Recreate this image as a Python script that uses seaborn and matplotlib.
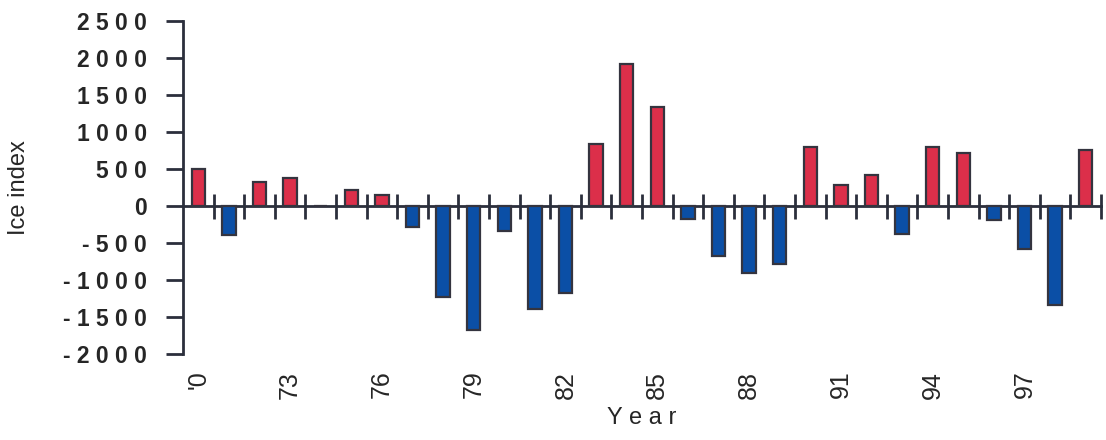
import matplotlib
matplotlib.use("Agg")
import matplotlib.pyplot as plt
import seaborn as sns
import pandas as pd
import numpy as np

# ice index per year, 1970-1999
years = list(range(1970, 2000))
ice_index = [500, -400, 320, 380, 0, 220, 140, -280, -1230, -1670,
             -340, -1390, -1180, 840, 1920, 1330, -180, -680, -910, -780,
             790, 280, 410, -380, 790, 710, -190, -580, -1340, 760]
label_years = ["'0", "73", "76", "79", "82", "85", "88", "91", "94", "97"]
yticks = [2500, 2000, 1500, 1000, 500, 0, -500, -1000, -1500, -2000]

RED = "#dc2f4a"
BLUE = "#0b4fa6"
EDGE = "#34343f"
AXC = "#2b2f3c"

df = pd.DataFrame({"year": [str(y) for y in years], "value": ice_index})
df["sign"] = np.where(df["value"] >= 0, "pos", "neg")

sns.set_style("white")
plt.rcParams["font.family"] = ["Liberation Sans", "DejaVu Sans"]

fig = plt.figure(figsize=(11.06, 4.4), dpi=100)
ax = fig.add_axes([183 / 1106, 1 - 354 / 440, (1101 - 183) / 1106, (354 - 20.7) / 440])

sns.barplot(data=df, x="year", y="value", hue="sign", palette={"pos": RED, "neg": BLUE},
            width=0.44, edgecolor=EDGE, linewidth=1.6, dodge=False, legend=False,
            saturation=1, ax=ax)

ax.set_xlim(-0.5, len(years) - 0.5)
ax.set_ylim(-2000, 2500)

# y axis: spaced-out bold digits
ax.set_yticks(yticks)
ax.set_yticklabels([" ".join(str(v)) for v in yticks], fontsize=16.5, fontweight="bold")
ax.tick_params(axis="y", left=True, direction="out", length=12, width=2, color=AXC, pad=14)
for s in ["top", "right", "bottom"]:
    ax.spines[s].set_visible(False)
ax.spines["left"].set_color(AXC)
ax.spines["left"].set_linewidth(2)

# x tick labels every 3 years at the bottom
ax.set_xticks(range(0, len(years), 3))
ax.set_xticklabels(label_years, rotation=90, fontsize=18)
ax.tick_params(axis="x", bottom=False, length=0, pad=12)
ax.set_xlabel("Y e a r", fontsize=17, labelpad=6)
ax.set_ylabel("Ice index", fontsize=17, labelpad=24)

# zero line with boundary ticks
zero_pos = 2000 / 4500
sec = ax.secondary_xaxis(zero_pos)
sec.set_xticks(np.arange(-0.5, len(years), 1.0)[1:])
sec.set_xticklabels([])
sec.tick_params(bottom=True, direction="inout", length=18, width=2, color=AXC)
sec.spines["top"].set_color(AXC)
sec.spines["top"].set_linewidth(2)
sec.spines["bottom"].set_color(AXC)
sec.spines["bottom"].set_linewidth(2)

fig.savefig("out.png", dpi=100)
